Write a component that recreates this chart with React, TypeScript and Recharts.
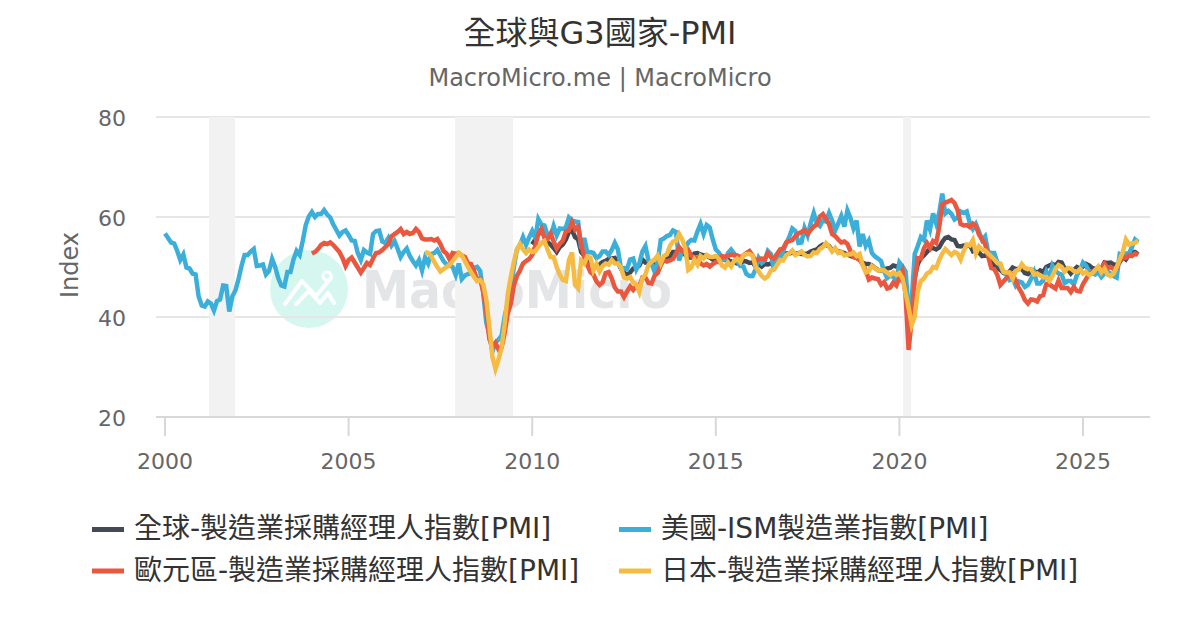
import React from "react";
import { LineChart, Line, XAxis, YAxis, CartesianGrid, ReferenceArea } from "recharts";

const FONT = "'DejaVu Sans','Noto Sans CJK TC',sans-serif";
const xTicks = [2000, 2005, 2010, 2015, 2020, 2025];
const yTicks = [20, 40, 60, 80];
const recessions = [[2001.2, 2001.91], [2007.9, 2009.48], [2020.1, 2020.32]];

const usStart = 2000;
const usPmi = [
  56.7,55.8,54.9,54.7,53.2,51.4,52.5,49.9,49.7,48.7,48.5,44.1,
  42.3,42.1,43.1,42.7,41.3,43.2,43.5,46.3,46.2,41.1,44.1,45.3,
  47.5,50.2,52.4,52.4,53.1,53.6,50.2,50.3,50.5,48.5,49.2,51.6,
  50.0,47.8,46.3,46.1,49.0,49.0,51.5,53.2,52.4,55.2,58.4,60.1,
  61.0,60.0,60.6,60.6,61.4,60.5,59.9,58.5,57.4,56.3,57.0,57.3,
  56.4,55.3,55.2,52.8,51.4,53.4,52.9,52.6,56.6,57.2,57.3,55.1,
  54.8,55.8,54.3,55.2,53.7,52.0,53.0,53.7,52.2,51.2,50.3,51.4,
  49.3,51.9,50.7,52.6,52.8,53.4,52.3,51.2,50.5,50.4,50.0,48.4,
  50.7,47.6,48.3,48.6,48.8,49.8,50.0,49.2,44.8,38.9,36.5,33.1,
  34.9,35.5,36.3,40.1,42.8,45.8,49.9,53.5,54.4,56.0,54.4,55.9,
  57.2,55.8,59.6,58.5,58.3,56.4,56.0,58.2,56.3,57.7,57.6,57.9,
  59.9,59.3,59.1,59.0,53.7,55.8,52.9,53.0,52.8,51.8,52.2,53.1,
  53.1,52.4,53.4,54.8,53.5,49.7,49.8,49.6,51.5,51.7,49.5,50.7,
  53.1,54.2,51.3,50.7,49.0,50.9,55.4,55.7,56.2,56.4,57.3,57.0,
  51.3,53.2,53.7,54.9,55.4,55.3,57.1,58.6,56.6,58.4,57.9,55.5,
  53.5,52.9,51.5,51.5,52.8,53.5,52.7,51.1,50.2,50.1,48.6,48.2,
  48.2,49.5,51.8,50.8,51.3,53.2,52.6,49.4,51.5,51.9,53.2,54.7,
  56.0,57.7,57.2,54.8,54.9,57.8,56.3,58.8,60.8,58.7,58.2,59.3,
  59.1,60.8,59.3,57.3,58.7,60.2,58.1,61.3,59.8,57.7,59.3,54.1,
  56.6,54.2,55.3,52.8,52.1,51.7,51.2,49.1,47.8,48.3,48.1,47.2,
  50.9,50.1,49.1,41.5,43.1,52.6,54.2,56.0,55.4,59.3,57.5,60.7,
  58.7,60.8,64.7,60.7,61.2,60.6,59.5,59.9,61.1,60.8,61.1,58.8,
  57.6,58.6,57.1,55.4,56.1,53.0,52.8,52.8,50.9,50.2,49.0,48.4,
  47.4,47.7,46.3,47.1,46.9,46.0,46.4,47.6,49.0,46.7,46.7,47.4,
  49.1,47.8,50.3,49.2,48.7,48.5,46.8,47.2,47.2,46.5,48.4,49.3,
  50.9,50.3,49.0,48.7,48.5,49.0,48.0,48.7,49.1,48.7,48.2,47.9,
  52.6,52.4,52.7,52.7,54.0,55.5,55.0,
];

const euroStart = 2004;
const euroPmi = [
  52.7,53.0,53.6,54.4,54.8,54.6,54.9,54.4,53.7,53.0,51.8,50.2,
  51.4,51.9,50.9,49.9,48.9,49.8,50.8,50.4,51.7,52.8,52.9,53.4,
  54.0,54.6,56.1,56.6,57.0,57.6,56.6,57.0,56.6,56.8,57.6,57.0,
  55.7,55.5,55.5,55.6,55.3,55.6,54.6,53.2,52.7,51.5,52.8,52.6,
  52.8,52.3,52.0,50.7,50.6,49.2,47.4,47.6,45.0,41.1,35.6,33.9,
  34.8,33.5,33.9,36.8,40.7,42.6,46.3,48.2,49.3,50.7,51.2,51.6,
  52.4,54.2,56.6,57.6,55.8,55.6,56.7,55.1,53.7,54.6,55.3,57.1,
  57.3,59.0,57.5,58.0,54.6,52.0,50.4,49.0,48.5,47.1,46.4,46.9,
  48.8,49.0,47.7,45.9,45.1,45.1,44.0,45.1,46.1,45.4,46.2,46.1,
  47.9,47.9,46.8,46.7,48.3,48.8,50.3,51.4,51.1,51.3,51.6,52.7,
  54.0,53.2,53.0,53.4,52.2,51.8,51.8,50.7,50.3,50.6,50.1,50.6,
  51.0,51.0,52.2,52.0,52.2,52.5,52.4,52.3,52.0,52.3,52.8,53.2,
  52.3,51.2,51.6,51.7,51.5,52.8,52.0,51.7,52.6,53.5,53.7,54.9,
  55.2,55.4,56.2,56.7,57.0,57.4,56.6,57.4,58.1,58.5,60.1,60.6,
  59.6,58.6,56.6,56.2,55.5,54.9,55.1,54.6,53.2,52.0,51.8,51.4,
  50.5,49.3,47.5,47.9,47.7,47.6,46.5,47.0,45.7,45.9,46.9,46.3,
  47.9,49.2,44.5,33.4,39.4,47.4,51.8,51.7,53.7,54.8,53.8,55.2,
  54.8,57.9,62.5,62.9,63.1,63.4,62.8,61.4,58.6,58.3,58.4,58.0,
  58.7,58.2,56.5,55.5,54.6,52.1,49.8,49.6,48.4,46.4,47.1,47.8,
  48.8,48.5,47.3,45.8,44.8,43.4,42.7,43.5,43.4,43.1,44.2,44.4,
  46.6,46.5,46.1,45.7,47.3,45.8,45.8,45.8,45.0,46.0,45.2,45.1,
  46.6,47.6,48.6,49.0,49.4,49.5,49.8,50.7,49.8,50.0,49.6,49.8,
  51.2,52.0,51.8,52.4,52.2,52.7,52.4,
];

const globalStart = 2010;
const globalPmi = [
  54.5,55.5,56.5,57.5,56.5,55.0,54.5,53.8,53.0,54.0,54.5,55.5,
  57.0,57.4,56.0,55.5,53.0,52.2,51.0,50.5,50.0,50.0,50.5,51.0,
  51.2,51.6,51.7,51.8,50.8,49.7,48.9,48.4,48.9,49.7,49.8,50.3,
  51.5,50.9,51.0,50.6,50.5,50.3,50.8,51.6,51.9,52.1,53.0,53.0,
  52.9,53.2,52.4,51.9,51.9,52.7,52.8,52.5,52.3,52.3,51.9,51.5,
  51.7,51.9,51.7,51.4,51.4,51.1,51.0,50.7,50.7,51.2,51.1,50.8,
  50.9,50.1,50.6,50.1,50.6,50.5,50.7,50.6,51.0,52.0,52.1,52.7,
  52.7,52.9,52.6,52.8,52.6,52.6,52.7,53.1,53.3,53.5,54.1,54.5,
  54.4,54.2,53.4,53.5,53.1,53.0,52.8,52.5,52.2,52.0,51.9,51.5,
  50.8,50.6,50.6,50.3,49.8,49.4,49.3,49.5,49.7,49.8,50.3,50.1,
  50.4,47.2,47.3,39.6,42.4,47.9,50.6,51.8,52.3,53.0,53.7,53.8,
  53.5,53.9,55.0,55.8,56.0,55.5,55.4,54.2,54.1,54.3,54.2,54.4,
  53.2,53.6,52.9,52.2,52.3,52.2,51.1,50.3,49.8,49.4,48.8,48.6,
  49.1,49.9,49.6,49.6,49.6,48.8,48.6,49.0,49.2,48.8,49.3,49.0,
  50.0,50.3,50.6,50.3,51.0,50.9,49.7,49.5,48.7,49.4,50.0,49.6,
  50.1,50.6,50.3,49.8,49.6,49.5,49.7,50.9,50.8,50.9,50.5,50.4,
  51.0,52.0,51.5,52.5,53.0,53.0,52.5,
];

const japanStart = 2007 + 1 / 12;
const japanPmi = [
  53.0,52.8,52.2,51.0,50.0,49.1,49.6,50.0,50.4,51.2,52.0,
  52.8,52.3,51.2,50.0,49.0,48.0,47.2,47.4,46.5,43.5,38.0,32.0,
  29.6,31.5,34.0,38.5,44.5,48.0,51.0,53.5,54.6,53.5,52.8,53.5,
  53.0,53.2,54.0,54.8,55.2,53.5,52.0,52.0,50.0,48.5,47.4,47.2,
  51.4,52.9,46.4,45.7,51.3,50.7,52.1,51.9,49.3,50.6,49.1,50.2,
  50.7,50.5,51.4,50.7,50.7,49.9,47.9,47.7,48.0,46.9,46.5,45.0,
  47.7,48.5,50.4,51.1,51.5,52.3,50.7,52.2,52.5,54.2,55.1,55.2,
  56.6,55.5,53.9,49.4,49.9,51.5,50.5,52.2,51.7,52.4,52.0,52.0,
  52.2,51.6,50.3,49.9,50.9,50.1,51.2,51.7,51.0,52.4,52.6,52.6,
  52.3,50.1,49.1,48.2,47.7,48.1,49.3,49.5,50.4,51.4,51.3,52.4,
  52.7,53.3,52.4,52.7,53.1,52.4,52.1,52.2,52.9,52.8,53.6,54.0,
  54.8,54.1,53.1,53.8,52.8,53.0,52.3,52.5,52.5,52.9,52.2,52.6,
  50.3,48.9,49.2,50.2,49.8,49.3,49.4,49.3,48.9,48.4,48.9,48.4,
  48.8,47.8,44.8,41.9,38.4,40.1,45.2,47.2,47.7,48.7,49.0,50.0,
  49.8,51.4,52.7,53.6,53.0,52.4,53.0,52.7,51.5,53.2,54.5,54.3,
  55.4,52.7,54.1,53.5,53.3,52.7,52.1,51.5,50.8,50.7,49.0,48.9,
  48.9,47.7,49.2,49.5,50.6,49.8,49.6,49.6,48.5,48.7,48.3,47.9,
  48.0,47.2,48.2,49.6,50.4,50.0,49.1,49.8,49.7,49.2,49.0,49.6,
  48.7,49.0,48.4,48.7,49.4,50.1,48.9,49.7,48.5,48.2,48.7,50.0,
  51.5,53.0,55.5,54.5,54.7,54.8,55.3,
];

const series = [
  { key: "global", name: "全球-製造業採購經理人指數[PMI]", color: "#434a54", start: globalStart, values: globalPmi },
  { key: "us", name: "美國-ISM製造業指數[PMI]", color: "#3bafda", start: usStart, values: usPmi },
  { key: "euro", name: "歐元區-製造業採購經理人指數[PMI]", color: "#e9573f", start: euroStart, values: euroPmi },
  { key: "japan", name: "日本-製造業採購經理人指數[PMI]", color: "#f6bb42", start: japanStart, values: japanPmi },
];

const table = usPmi.map((_, i) => {
  const t = usStart + i / 12;
  const row: Record<string, number | null> = { t };
  for (const s of series) {
    const j = Math.round((t - s.start) * 12);
    row[s.key] = j >= 0 && j < s.values.length ? s.values[j] : null;
  }
  return row;
});

const legendSlots = [
  { x: 92, y: 529 },
  { x: 619, y: 529 },
  { x: 92, y: 570.5 },
  { x: 619, y: 570.5 },
];

function Backdrop() {
  return (
    <svg width={1200} height={630} style={{ position: "absolute", left: 0, top: 0 }}>
      <circle cx={309} cy={289} r={39} fill="#d5f7f0" />
      <polyline points="285,304 302,281 316,296 331,278" fill="none" stroke="#fff" strokeWidth={4} strokeLinecap="round" strokeLinejoin="round" />
      <polyline points="296,304 309,291 320,303 328,293 334,303" fill="none" stroke="#fff" strokeWidth={4} strokeLinecap="round" strokeLinejoin="round" />
      <circle cx={327} cy={276} r={4} fill="#d5f7f0" stroke="#fff" strokeWidth={3} />
      <text x={362} y={308} fontFamily={FONT} fontSize={52} fontWeight={700} fill="#e3e5e7" textLength={310} lengthAdjust="spacingAndGlyphs">MacroMicro</text>
    </svg>
  );
}

function Overlay() {
  return (
    <svg width={1200} height={630} style={{ position: "absolute", left: 0, top: 0, pointerEvents: "none" }}>
      <text x={600} y={44} textAnchor="middle" fontFamily={FONT} fontSize={32} fill="#333">全球與G3國家-PMI</text>
      <text x={600} y={86} textAnchor="middle" fontFamily={FONT} fontSize={24} fill="#666">MacroMicro.me | MacroMicro</text>
      <text transform="translate(78,265) rotate(-90)" textAnchor="middle" fontFamily={FONT} fontSize={24} fill="#666">Index</text>
      {series.map((s, i) => (
        <g key={s.key}>
          <rect x={legendSlots[i].x} y={legendSlots[i].y - 2} width={32} height={5} fill={s.color} />
          <text x={legendSlots[i].x + 42} y={legendSlots[i].y + 9} fontFamily={FONT} fontSize={28} fill="#333">{s.name}</text>
        </g>
      ))}
    </svg>
  );
}

export default function App() {
  return (
    <div style={{ position: "absolute", left: 0, top: 0, width: 1200, height: 630, background: "#fff", overflow: "hidden" }}>
      <Backdrop />
      <div style={{ position: "absolute", left: 0, top: 0 }}>
        <LineChart width={1200} height={630} data={table} margin={{ top: 117, right: 50, bottom: 183, left: 96 }}>
          <CartesianGrid vertical={false} stroke="#e6e6e6" strokeWidth={2} />
          {recessions.map(([a, b]) => (
            <ReferenceArea key={a} x1={a} x2={b} fill="#f2f2f2" fillOpacity={1} stroke="none" ifOverflow="hidden" />
          ))}
          <XAxis
            dataKey="t"
            type="number"
            domain={[1999.755, 2026.824]}
            ticks={xTicks}
            tick={{ fill: "#666", fontSize: 22, fontFamily: FONT }}
            tickLine={{ stroke: "#d8d8d8", strokeWidth: 2 }}
            axisLine={{ stroke: "#d8d8d8", strokeWidth: 2 }}
            tickSize={19}
            tickMargin={17}
            height={30}
            allowDataOverflow
          />
          <YAxis
            domain={[20, 80]}
            ticks={yTicks}
            width={60}
            axisLine={false}
            tickLine={false}
            tickMargin={24}
            tick={{ fill: "#666", fontSize: 22, fontFamily: FONT, dy: 1 }}
          />
          {series.map((s) => (
            <Line key={s.key} dataKey={s.key} name={s.name} stroke={s.color} strokeWidth={4.5} dot={false} isAnimationActive={false} connectNulls={false} type="linear" />
          ))}
        </LineChart>
      </div>
      <Overlay />
    </div>
  );
}
